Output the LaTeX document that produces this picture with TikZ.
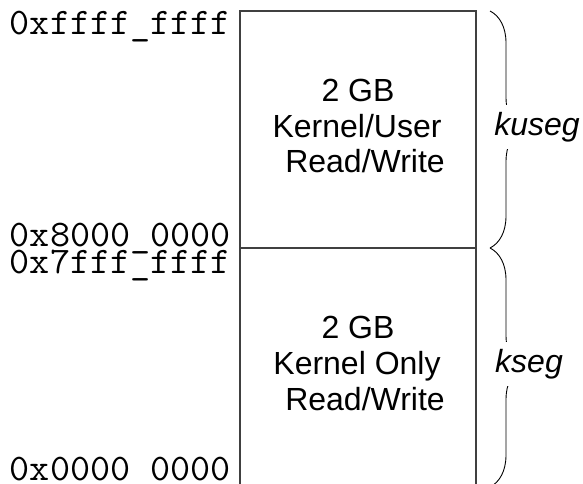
\documentclass[tikz,border=0pt]{standalone}
\usepackage{fontspec}
\setmainfont{Liberation Sans}
\setmonofont[FakeStretch=1.04]{Latin Modern Mono}
\usetikzlibrary{decorations.pathreplacing}
\tikzset{
  addr/.style={anchor=base east, inner sep=0pt, font=\ttfamily\fontsize{37.5}{40}\selectfont},
  boxtext/.style={anchor=base, inner sep=0pt, font=\fontsize{32}{37}\selectfont},
  seglabel/.style={fill=white, inner sep=7pt, font=\itshape\fontsize{32}{37}\selectfont},
  memline/.style={draw=black!75, line width=1.3pt},
  segbrace/.style={draw=black, line width=0.9pt, decorate, decoration={brace, amplitude=32pt}}
}
\begin{document}
\begin{tikzpicture}[x=1pt, y=-1pt]
\useasboundingbox (0,0) rectangle (583,484);
% memory box corners
\coordinate (tl) at (240,11);
\coordinate (tr) at (476,11);
\coordinate (ml) at (240,248);
\coordinate (mr) at (476,248);
\coordinate (bl) at (240,500);
\coordinate (br) at (476,500);
\draw[memline] (bl) -- (tl) -- (tr) -- (br);
\draw[memline] (ml) -- (mr);
% braces
\coordinate (b1) at (490,11);
\coordinate (b2) at (490,248);
\coordinate (b3) at (490,487);
\draw[segbrace] (b1) -- (b2);
\draw[segbrace] (b2) -- (b3);
\node[seglabel] (kuseg) at (537,127) {kuseg};
\node[seglabel] (kseg) at (529,364) {kseg};
% addresses
\node[addr] (a1) at (231,35) {0xffff\_ffff};
\node[addr] (a2) at (231,246) {0x8000\_0000};
\node[addr] (a3) at (231,273) {0x7fff\_ffff};
\node[addr] (a4) at (231,480) {0x0000\_0000};
% upper box text
\node[boxtext] (u1) at (358,102) {2 GB};
\node[boxtext] (u2) at (357,137) {Kernel/User};
\node[boxtext] (u3) at (365,172) {Read/Write};
% lower box text
\node[boxtext] (l1) at (358,338) {2 GB};
\node[boxtext] (l2) at (357,374) {Kernel Only};
\node[boxtext] (l3) at (365,410) {Read/Write};
\end{tikzpicture}
\end{document}
